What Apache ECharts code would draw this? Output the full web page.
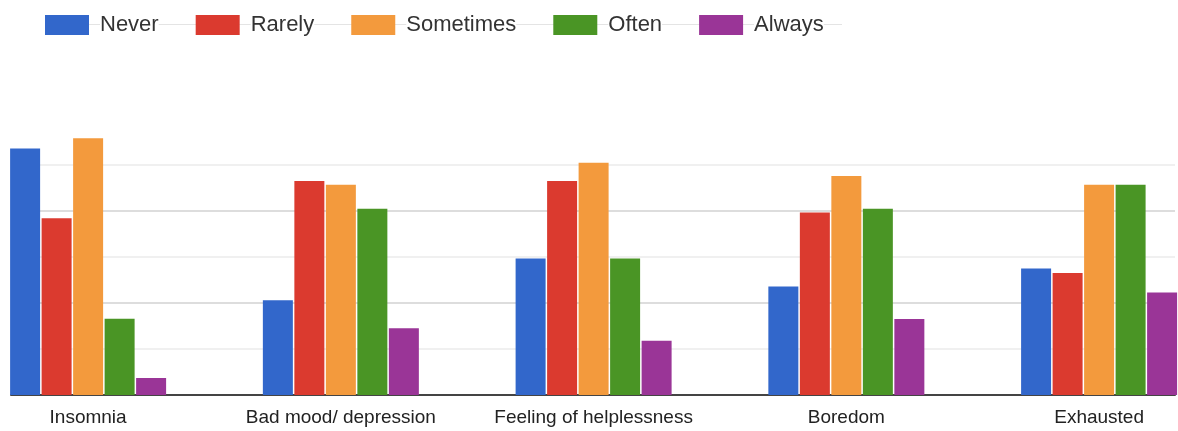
<!DOCTYPE html>
<html>
<head>
<meta charset="utf-8">
<script src="https://cdn.jsdelivr.net/npm/echarts@6/dist/echarts.min.js"></script>
<style>
  html, body { margin: 0; padding: 0; background: #fff; }
  #chart { width: 1178px; height: 431px; }
</style>
</head>
<body>
<div id="chart"></div>
<script>
const categories = ['Insomnia', 'Bad mood/ depression', 'Feeling of helplessness', 'Boredom', 'Exhausted'];
const seriesNames = ['Never', 'Rarely', 'Sometimes', 'Often', 'Always'];
const never     = [53.6, 20.6, 29.7, 23.6, 27.5];
const rarely    = [38.4, 46.5, 46.5, 39.7, 26.5];
const sometimes = [55.8, 45.7, 50.5, 47.6, 45.7];
const often     = [16.6, 40.5, 29.7, 40.5, 45.7];
const always    = [3.7, 14.5, 11.8, 16.5, 22.3];
const colors = ['#3267cb', '#db3a2f', '#f39a3d', '#4a9525', '#9a3597'];
const yTicks = [0, 10, 20, 30, 40, 50];

const allValues = [never, rarely, sometimes, often, always];
const FONT = '"Liberation Sans", Arial, Helvetica, sans-serif';

const chart = echarts.init(document.getElementById('chart'), null, { renderer: 'canvas' });

const series = seriesNames.map((name, si) => ({
  name: name,
  type: 'bar',
  clip: false,
  barWidth: 30,
  barGap: '5%',
  itemStyle: { color: colors[si] },
  emphasis: { disabled: true },
  data: allValues[si].map((v, ci) => [ci, v])
}));

chart.setOption({
  animation: false,
  backgroundColor: '#fff',
  color: colors,
  textStyle: { fontFamily: FONT },
  graphic: [{
    type: 'line',
    z: 0,
    silent: true,
    shape: { x1: 45, y1: 24.5, x2: 842, y2: 24.5 },
    style: { stroke: '#e4e4e4', lineWidth: 1 }
  }],
  legend: {
    left: 45,
    top: 14,
    itemWidth: 44,
    itemHeight: 20,
    itemGap: 37,
    icon: 'rect',
    padding: 0,
    selectedMode: false,
    data: seriesNames,
    formatter: function (name) { return '{g| }{t|' + name + '}'; },
    textStyle: {
      fontFamily: FONT,
      fontSize: 22,
      color: '#333',
      rich: {
        g: { width: 6, fontSize: 22 },
        t: { backgroundColor: '#fff', fontSize: 22, color: '#333', fontFamily: FONT }
      }
    }
  },
  grid: { left: 11, right: 3, top: 165, bottom: 36, containLabel: false },
  xAxis: {
    type: 'value',
    min: -0.3051,
    max: 4.3003,
    splitLine: { show: false },
    axisTick: { show: false },
    axisLine: { show: true, onZero: true, lineStyle: { color: '#444', width: 2 } },
    axisLabel: {
      customValues: [0, 1, 2, 3, 4],
      formatter: function (v) { return categories[Math.round(v)] || ''; },
      fontFamily: FONT,
      fontSize: 19,
      color: '#222',
      margin: 13
    }
  },
  yAxis: {
    type: 'value',
    min: yTicks[0],
    max: yTicks[yTicks.length - 1],
    interval: 10,
    axisLabel: { show: false },
    axisTick: { show: false },
    axisLine: { show: false },
    splitLine: {
      show: true,
      lineStyle: {
        color: ['#d0d0d0', '#ebebeb', '#d2d2d2', '#ebebeb', '#d2d2d2', '#ebebeb'],
        width: 1.5
      }
    }
  },
  series: series
});
</script>
</body>
</html>
